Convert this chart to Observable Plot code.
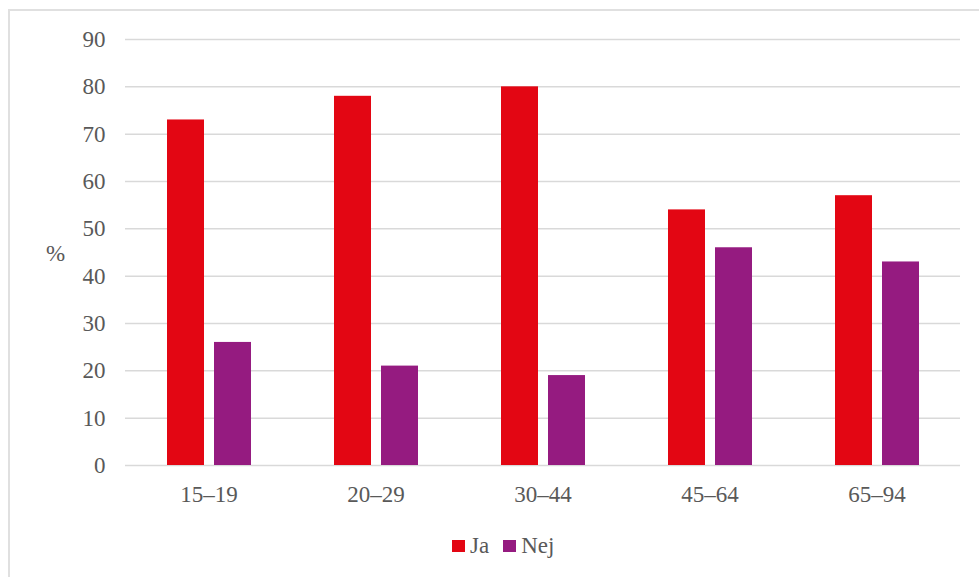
<!DOCTYPE html>
<html>
<head>
<meta charset="utf-8">
<script src="https://cdn.jsdelivr.net/npm/d3@7"></script>
<script src="https://cdn.jsdelivr.net/npm/@observablehq/plot@0.6"></script>
<style>
  html, body { margin: 0; padding: 0; background: #fff; }
  body { width: 979px; height: 577px; position: relative; overflow: hidden; font-family: "Liberation Serif", "Times New Roman", serif; }
  #frame { position: absolute; left: 8px; top: 9px; width: 1000px; height: 600px; border-top: 2px solid #e0e0e0; border-left: 2px solid #e0e0e0; box-sizing: border-box; }
  #chart { position: absolute; left: 0; top: 0; }
  #ylab { position: absolute; left: 46px; top: 242px; font-size: 23px; line-height: 23px; color: #595959; }
  #legend { position: absolute; left: 452px; top: 534px; display: flex; align-items: center; font-size: 23px; line-height: 23px; color: #595959; }
  .sw { width: 13px; height: 12px; display: inline-block; margin-right: 5px; }
  .item { display: flex; align-items: center; margin-right: 14px; }
</style>
</head>
<body>
<div id="frame"></div>
<div id="chart"></div>
<div id="ylab">%</div>
<div id="legend"></div>
<script>
const ages = ["15–19", "20–29", "30–44", "45–64", "65–94"];
const series = ["Ja", "Nej"];
const jaValues = [73, 78, 80, 54, 57];
const nejValues = [26, 21, 19, 46, 43];
const colors = ["#E30613", "#951B80"];
const yTicks = [0, 10, 20, 30, 40, 50, 60, 70, 80, 90];

const data = [];
ages.forEach((a, i) => {
  data.push({age: a, series: "Ja", value: jaValues[i]});
  data.push({age: a, series: "Nej", value: nejValues[i]});
});

const chart = Plot.plot({
  width: 979,
  height: 500,
  marginTop: 39,
  marginBottom: 35,
  marginLeft: 124,
  marginRight: 18,
  style: {fontFamily: "'Liberation Serif', 'Times New Roman', serif", fontSize: "23px", color: "#595959", background: "transparent", overflow: "visible"},
  fx: {domain: ages, padding: 0, label: null, tickSize: 0, tickPadding: 20},
  x: {domain: series, paddingInner: 0.213, paddingOuter: 0.883, axis: null},
  y: {domain: [0, 90], ticks: yTicks, label: null, tickSize: 0, tickPadding: 20},
  color: {domain: series, range: colors},
  marks: [
    Plot.gridY(yTicks, {stroke: "#d9d9d9", strokeOpacity: 1, strokeWidth: 1.5}),
    Plot.barY(data, {fx: "age", x: "series", y: "value", fill: "series"})
  ]
});
document.getElementById("chart").appendChild(chart);

const legend = document.getElementById("legend");
series.forEach((s, i) => {
  const item = document.createElement("div");
  item.className = "item";
  const sw = document.createElement("span");
  sw.className = "sw";
  sw.style.background = colors[i];
  const t = document.createElement("span");
  t.textContent = s;
  item.appendChild(sw);
  item.appendChild(t);
  legend.appendChild(item);
});
</script>
</body>
</html>
